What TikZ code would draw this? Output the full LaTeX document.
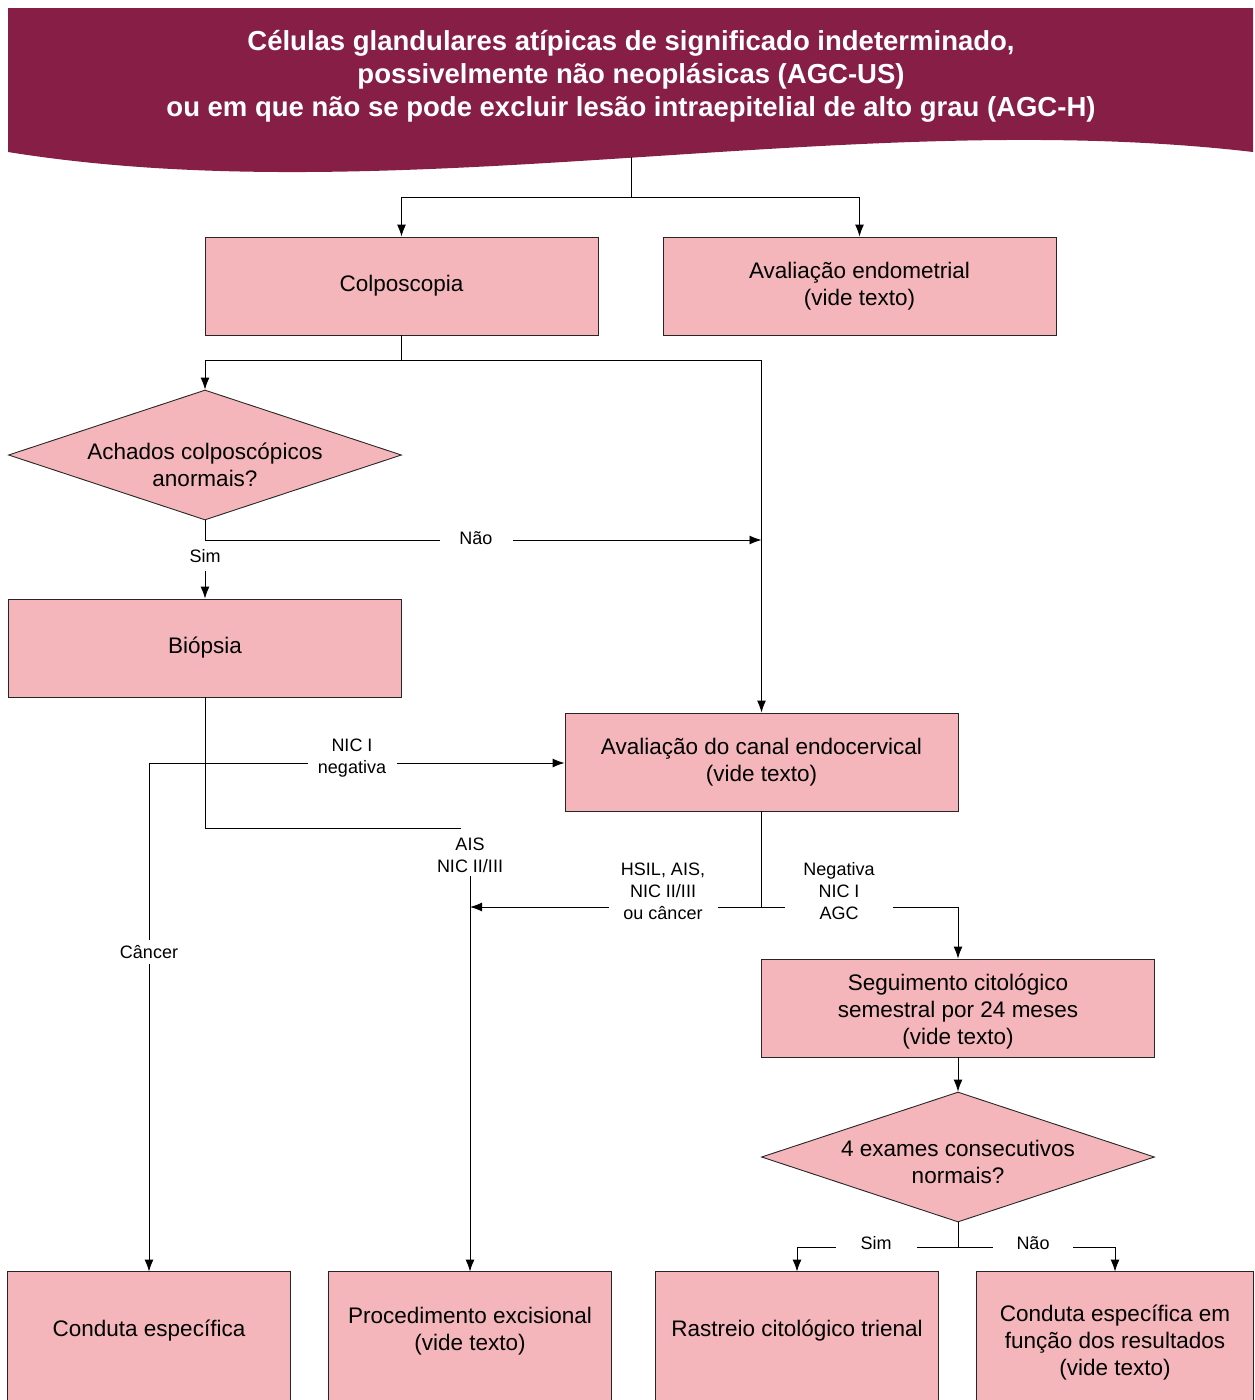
\documentclass[tikz,border=0pt]{standalone}
\usepackage{fontspec}
\setmainfont{Liberation Sans}
\usepackage{tikz}
\usetikzlibrary{shapes.geometric}
\usetikzlibrary{arrows.meta}
\usetikzlibrary{backgrounds}
\definecolor{banner}{RGB}{134,30,70}
\definecolor{boxpink}{RGB}{244,182,187}
\tikzset{x=1pt, y=-1pt,
box/.style={ % Sets the properties for each step box
rectangle, draw=black!85, fill=boxpink,
minimum width=393pt, minimum height=98pt,
align=center, font=\fontsize{22.5}{27}\selectfont},
openbox/.style={ % Last row, box runs off the page
rectangle, minimum width=282pt, minimum height=118pt,
align=center, font=\fontsize{22.5}{27}\selectfont},
decision/.style={diamond, aspect=3, inner sep=0pt,
draw=black!85, fill=boxpink,
minimum width=393pt, minimum height=130pt},
decisiontext/.style={align=center, font=\fontsize{22.5}{27}\selectfont},
lbl/.style={ % Labels cut through the lines
fill=white, align=center, inner sep=5pt, minimum width=80pt,
font=\fontsize{18}{22}\selectfont},
arr/.style={-{Latex[length=12pt,width=9pt]}}}

\begin{document}
\begin{tikzpicture}[line width=0.9pt]
\useasboundingbox (0,0) rectangle (1255,1400);
% title banner
\fill[banner] (8,8) -- (1253,8) -- (1253,152)
  .. controls (850,105) and (400,215) .. (8,152) -- cycle;
\node[text=white, align=center, font=\bfseries\fontsize{27.5}{33}\selectfont] (titulo) at (631,76)
  {Células glandulares atípicas de significado indeterminado,\\
   possivelmente não neoplásicas (AGC-US)\\
   ou em que não se pode excluir lesão intraepitelial de alto grau (AGC-H)};
\coordinate (bantip) at (631,157);

\node[box] (colp) at (401.5,286) {Colposcopia};
\node[box] (endo) at (859.5,286) {Avaliação endometrial\\(vide texto)};
\node[decision] (achados) at (205,455) {};
\node[decisiontext] (achadostxt) at (205,465) {Achados colposcópicos\\anormais?};
\node[box] (biopsia) at (205,648) {Biópsia};
\node[box] (canal) at (761.5,762) {Avaliação do canal endocervical\\(vide texto)};
\node[box] (seg) at (958,1008) {};
\node[decisiontext] (segtxt) at (958,1012) {Seguimento citológico\\semestral por 24 meses\\(vide texto)};
\node[decision] (exames) at (958,1157) {};
\node[decisiontext] (examestxt) at (958,1162) {4 exames consecutivos\\normais?};
\node[openbox] (cond) at (149,1331) {Conduta específica};
\node[openbox] (proc) at (470,1331) {Procedimento excisional\\(vide texto)};
\node[openbox] (rast) at (797,1331) {Rastreio citológico trienal};
\node[openbox, minimum width=276pt, minimum height=142pt] (condres) at (1115,1343) {Conduta específica em\\função dos resultados\\(vide texto)};
\begin{scope}[on background layer]
\foreach \b in {cond,proc,rast,condres}
  \draw[draw=black!85, fill=boxpink] (\b.north west) rectangle ([yshift=-30pt]\b.south east);
\end{scope}

\coordinate (split1) at (631,197);
\coordinate (split2) at (401.5,360);
\coordinate (naoend) at (761.5,540);
\coordinate (cancerturn) at (149,763);
\coordinate (aisend) at (461,828);
\coordinate (canalsplit) at (761.5,907);
\coordinate (hsilend) at (470,907);
\coordinate (exsplit) at (958,1247);

\draw (bantip) -- (split1);
\draw[arr] (split1) -| (colp);
\draw[arr] (split1) -| (endo);
\draw (colp) -- (split2);
\draw[arr] (split2) -| (achados);
\draw[arr] (split2) -| (canal);
\draw[arr] (achados.south) |- (naoend);
\node[lbl, minimum width=73pt] (nao1) at (476,538) {Não};
\draw[arr] (achados) -- (biopsia);
\node[lbl, minimum width=30pt, minimum height=30pt] (sim1) at (205,556) {Sim};
\draw (biopsia) |- (aisend);
\draw[arr] (cancerturn) -- (cancerturn -| canal.west);
\draw[arr] (cancerturn) -- (cond);
\node[lbl, minimum width=89pt] (nic1) at (352,758) {NIC I\\negativa};
\node[lbl] (cancer) at (149,952) {Câncer};
\node[lbl, inner sep=3pt, minimum width=60pt] (ais) at (470,855) {AIS\\NIC II/III};
\draw[arr] (ais) -- (proc);
\draw (canal) -- (canalsplit);
\draw[arr] (canalsplit) -- (hsilend);
\draw[arr] (canalsplit) -| (seg);
\node[lbl, minimum width=109pt] (hsil) at (663,891) {HSIL, AIS,\\NIC II/III\\ou câncer};
\node[lbl, minimum width=108pt] (negat) at (839,891) {Negativa\\NIC I\\AGC};
\draw[arr] (seg) -- (exames);
\draw (exames) -- (exsplit);
\draw[arr] (exsplit) -| (rast);
\draw[arr] (exsplit) -| (condres);
\node[lbl, minimum width=81pt] (sim2) at (876,1243) {Sim};
\node[lbl, minimum width=80pt] (nao2) at (1033,1243) {Não};
\end{tikzpicture}
\end{document}
